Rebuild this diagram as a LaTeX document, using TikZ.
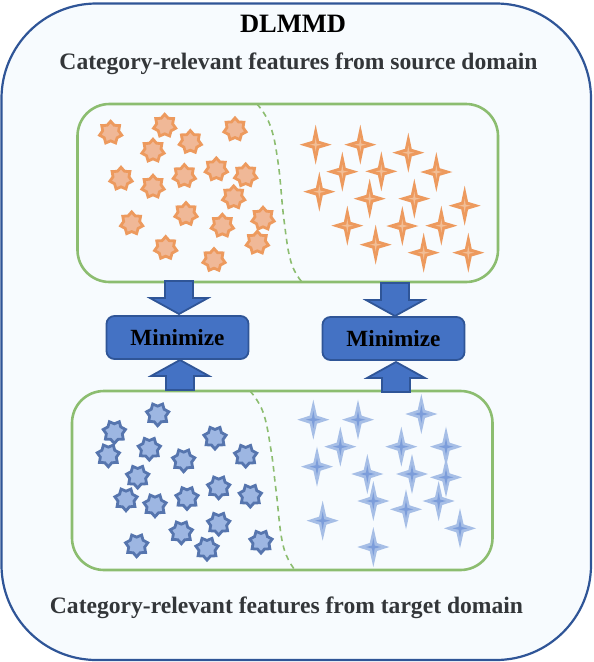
\documentclass[tikz,border=0pt]{standalone}
\usepackage{fontspec}
\setmainfont{Liberation Serif}
\definecolor{panelbg}{HTML}{F7FBFE}
\definecolor{outerblue}{HTML}{2F5597}
\definecolor{boxgreen}{HTML}{8CBD70}
\definecolor{blockfill}{HTML}{4472C4}
\definecolor{orangefill}{HTML}{F0B897}
\definecolor{orangeline}{HTML}{ED9A5E}
\definecolor{orangelight}{HTML}{F2BE96}
\definecolor{bluefill}{HTML}{9DB6E2}
\definecolor{blueline}{HTML}{5675AE}
\definecolor{bluelight}{HTML}{A6BEE6}
\definecolor{bluecore}{HTML}{7C9DDA}
\definecolor{txtgray}{HTML}{333639}
\newcommand{\sevenpath}{
  (90:11.4)--(115.71:8.2)--(141.43:11.4)--(167.14:8.2)--(192.86:11.4)--(218.57:8.2)--(244.29:11.4)--(270:8.2)
  --(295.71:11.4)--(321.43:8.2)--(347.14:11.4)--(12.86:8.2)--(38.57:11.4)--(64.29:8.2)--cycle}
\tikzset{
  x=1pt,y=-1pt,
  outerbox/.style={draw=outerblue,fill=panelbg,line width=2.2pt,rounded corners=95pt},
  panelbox/.style={draw=boxgreen,fill=panelbg,line width=2.6pt,rounded corners=32pt},
  divider/.style={draw=boxgreen,line width=1.6pt,dash pattern=on 5.5pt off 4.5pt},
  minbox/.style={draw=outerblue,fill=blockfill,line width=1.8pt,rounded corners=8pt,minimum width=142pt,minimum height=43pt,inner sep=0pt,font=\fontsize{23.2}{26}\bfseries\selectfont,text=black},
  blockarrow/.style={draw=outerblue,fill=blockfill,line width=1.8pt},
  title/.style={anchor=base,font=\fontsize{26.5}{30}\bfseries\selectfont,text=black,inner sep=0pt},
  heading/.style={anchor=base,font=\fontsize{23.6}{28}\bfseries\selectfont,text=txtgray,inner sep=0pt},
  ostar/.pic={
    \path[fill=orangefill,draw=orangeline,line width=2.8pt,miter limit=6] \sevenpath;
  },
  bstar/.pic={
    \path[fill=bluefill,draw=blueline,line width=2.8pt,miter limit=6] \sevenpath;
  },
  orangespark/.pic={
    \fill[orangeline] (0,-20)--(3.4,-3.8)--(16,0)--(3.4,3.8)--(0,20)--(-3.4,3.8)--(-16,0)--(-3.4,-3.8)--cycle;
    \fill[orangelight] (0,-7)--(1,-1)--(6,0)--(1,1)--(0,7)--(-1,1)--(-6,0)--(-1,-1)--cycle;
  },
  bluespark/.pic={
    \fill[bluelight] (0,-20)--(3.6,-4)--(16,0)--(3.6,4)--(0,20)--(-3.6,4)--(-16,0)--(-3.6,-4)--cycle;
    \fill[bluecore] (0,-9)--(1.4,-1.4)--(7.5,0)--(1.4,1.4)--(0,9)--(-1.4,1.4)--(-7.5,0)--(-1.4,-1.4)--cycle;
  },
  arrowdown/.pic={
    \path[blockarrow] (0,0)--(-29,-16)--(-14,-16)--(-14,-33)--(14,-33)--(14,-16)--(29,-16)--cycle;
  },
  arrowup/.pic={
    \path[blockarrow] (0,0)--(-29,16)--(-14,16)--(-14,30)--(14,30)--(14,16)--(29,16)--cycle;
  }
}
\begin{document}
\begin{tikzpicture}
\useasboundingbox (0,0) rectangle (594,662);
\path[outerbox] (1.5,3.5) rectangle (591,660);
\node[title] (ttl) at (293,32) {DLMMD};
\node[heading] (srcttl) at (298.5,69) {Category-relevant features from source domain};
\node[heading] (tgtttl) at (286.5,613) {Category-relevant features from target domain};
\path[panelbox] (77.5,104) rectangle (498,282);
\path[panelbox] (72,391) rectangle (492.5,570);
\draw[divider] plot[smooth,tension=0.7] coordinates {(257,104) (270,125) (278,162) (284,220) (291,262) (302,282)};
\draw[divider] plot[smooth,tension=0.7] coordinates {(250,391) (263,412) (271,450) (276,490) (283,545) (295,570)};
% orange seven-point stars
\foreach \zx/\zy in {122/113,284/92,495/103,361/141,249/167,153/251,249/275,343/243,439/223,527/241,491/307,185/385,348/357,457/392,579/371,562/443,287/459,432/495}
  \pic[yscale=-1] at ({70+\zx/3},{95+\zy/3}) {ostar};
% orange sparks
\foreach \zx/\zy in {107/149,241/149,385/173,187/230,304/229,469/231,118/290,269/311,403/311,554/332,202/392,367/393,484/392,287/449,431/473,565/473}
  \pic at ({280+\zx/3},{95+\zy/3}) {orangespark};
% blue seven-point stars
\foreach \zx/\zy in {148/141,130/211,278/88,450/158,253/191,356/226,542/212,218/275,461/307,183/343,270/361,366/339,556/332,461/416,349/442,426/491,588/470,215/481}
  \pic at ({65+\zx/3},{385+\zy/3}) {bstar};
% blue sparks
\foreach \zx/\zy in {100/104,234/104,424/87,181/185,364/185,498/185,111/245,262/267,396/267,498/277,280/348,476/348,378/373,128/407,540/430,280/486}
  \pic at ({280+\zx/3},{385+\zy/3}) {bluespark};
% minimize boxes
\node[minbox] (m1) at (177.5,337.5) {Minimize};
\node[minbox] (m2) at (393.5,338.5) {Minimize};
% block arrows
\pic at (179,314) {arrowdown};
\pic at (395,316) {arrowdown};
\pic at (180,360) {arrowup};
\pic at (396,362) {arrowup};
\end{tikzpicture}
\end{document}
